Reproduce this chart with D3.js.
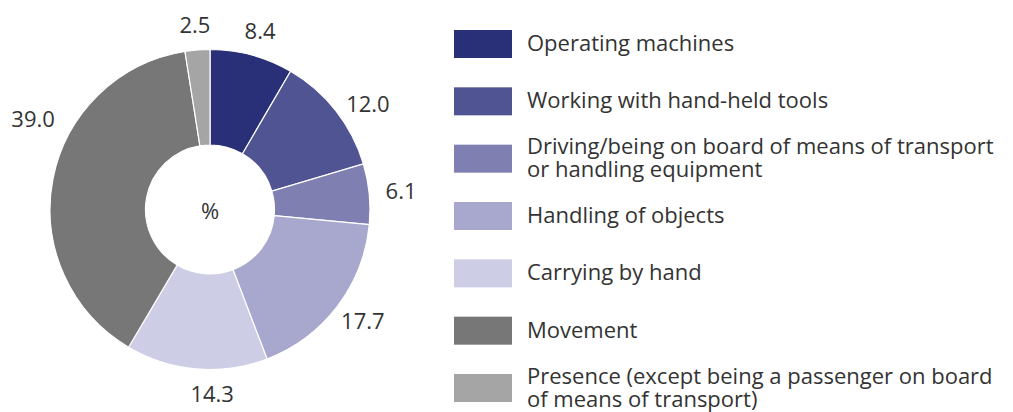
<!DOCTYPE html>
<html>
<head>
<meta charset="utf-8">
<script src="https://cdn.jsdelivr.net/npm/d3@7"></script>
<style>
  body { margin: 0; background: #fff; }
  svg text { font-family: "Open Sans", "Liberation Sans", Arial, sans-serif; fill: #333; }
</style>
</head>
<body>
<div id="chart"></div>
<script>
const categories = [
  'Operating machines',
  'Working with hand-held tools',
  'Driving/being on board of means of transport|or handling equipment',
  'Handling of objects',
  'Carrying by hand',
  'Movement',
  'Presence (except being a passenger on board|of means of transport)'
];
const values = [8.4, 12.0, 6.1, 17.7, 14.3, 39.0, 2.5];
const colors = ['#2a3077', '#515493', '#7f7fb2', '#a8a7ce', '#cdcde6', '#777777', '#a5a5a5'];

const width = 1013, height = 412;
const cx = 210, cy = 209.5;
const outerR = 160, innerR = 64.5;
const labelRx = 192, labelRy = 185;

const svg = d3.select('#chart')
  .append('svg')
  .attr('width', width)
  .attr('height', height);

const data = categories.map((c, i) => ({ name: c, value: values[i], color: colors[i] }));

const pie = d3.pie().sort(null).value(d => d.value);
const arc = d3.arc().innerRadius(innerR).outerRadius(outerR);

const g = svg.append('g').attr('transform', `translate(${cx},${cy})`);
const arcs = pie(data);

g.selectAll('path')
  .data(arcs)
  .enter()
  .append('path')
  .attr('d', arc)
  .attr('fill', d => d.data.color)
  .attr('stroke', '#fff')
  .attr('stroke-width', 1.2);

// small nudges (degrees) so labels sit where the original put them
const labelShift = { 'Movement': 17, 'Carrying by hand': -5.5, 'Working with hand-held tools': 3.5 };
const rad = Math.PI / 180;

g.selectAll('.label')
  .data(arcs)
  .enter()
  .append('text')
  .attr('class', 'label')
  .attr('transform', d => {
    const shift = (labelShift[d.data.name] || 0) * rad;
    const mid = (d.startAngle + d.endAngle) / 2 + shift;
    const extra = d.data.name === 'Movement' ? 8 : 0;
    return `translate(${(labelRx + extra) * Math.sin(mid)},${-(labelRy + extra) * Math.cos(mid)})`;
  })
  .attr('text-anchor', 'middle')
  .attr('dy', '0.36em')
  .style('font-size', '22px')
  .text(d => d.data.value.toFixed(1));

g.append('text')
  .attr('text-anchor', 'middle')
  .attr('dy', '0.36em')
  .attr('y', 2)
  .style('font-size', '22px')
  .text('%');

// legend
const y = d3.scalePoint()
  .domain(categories)
  .range([44, 388]);

const legend = svg.append('g').attr('class', 'legend');
const item = legend.selectAll('g')
  .data(data)
  .enter()
  .append('g')
  .attr('transform', d => `translate(454,${y(d.name)})`);

item.append('rect')
  .attr('x', 0)
  .attr('y', -14)
  .attr('width', 58)
  .attr('height', 28)
  .attr('fill', d => d.color);

item.append('text')
  .style('font-size', '22px')
  .each(function (d) {
    const lines = d.name.split('|');
    const t = d3.select(this);
    lines.forEach((line, k) => {
      t.append('tspan')
        .attr('x', 73)
        .attr('y', 7 + (k - (lines.length - 1) / 2) * 23)
        .text(line);
    });
  });
</script>
</body>
</html>
